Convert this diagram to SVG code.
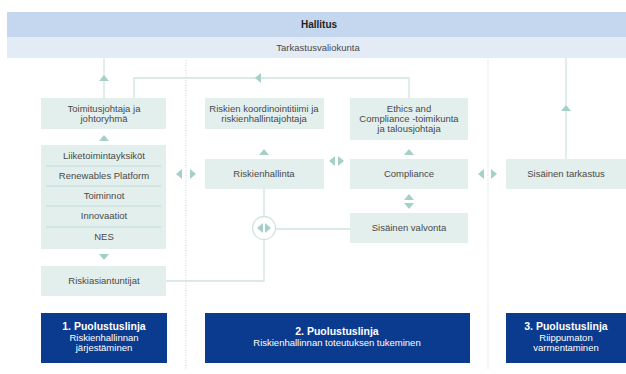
<svg xmlns="http://www.w3.org/2000/svg" width="626" height="374" viewBox="0 0 626 374">
  <style>
    .box { fill: #e2efed; }
    .navy { fill: #0b3b8f; }
    .t { font-family: "Liberation Sans", Arial, sans-serif; font-size: 9.5px; fill: #4a4a4a; text-anchor: middle; }
    .w { font-family: "Liberation Sans", Arial, sans-serif; font-size: 9.5px; fill: #ffffff; text-anchor: middle; }
    .wb { font-weight: bold; font-size: 10.5px; }
    .b { font-weight: bold; font-size: 10px; fill: #222222; }
    .ln { fill: none; stroke: #cfe4e0; stroke-width: 1.3; }
    .sep { stroke: #b9d6d0; stroke-width: 0.8; }
    .dot { stroke: #c9d7d6; stroke-width: 1; stroke-dasharray: 1 1.5; }
    .ar { fill: #a5d0c8; }
  </style>
  <defs>
    <polygon id="up" class="ar" points="-5,3 5,3 0,-3"/>
    <polygon id="dn" class="ar" points="-5,-3 5,-3 0,3"/>
    <polygon id="lt" class="ar" points="3,-5 3,5 -3,0"/>
    <polygon id="rt" class="ar" points="-3,-5 -3,5 3,0"/>
  </defs>

  <rect width="626" height="374" fill="#ffffff"/>

  <!-- board bars -->
  <g id="hallitus">
    <rect x="7" y="12" width="619" height="25" fill="#c5d7ef"/>
    <text class="t b" x="319" y="28">Hallitus</text>
  </g>
  <g id="tarkastusvaliokunta">
    <rect x="7" y="37" width="619" height="21" fill="#e3ebf7"/>
    <text class="t" x="318" y="51">Tarkastusvaliokunta</text>
  </g>

  <!-- column dividers -->
  <line class="dot" x1="186" y1="60" x2="186" y2="370"/>
  <line class="dot" x1="488" y1="60" x2="488" y2="370"/>

  <g id="connectors">
    <line class="ln" x1="104" y1="58" x2="104" y2="98"/>
    <polyline class="ln" points="134,98 134,78 409,78 409,98"/>
    <line class="ln" x1="566" y1="58" x2="566" y2="159"/>
    <polyline class="ln" points="264,189 264,281 166,281"/>
    <line class="ln" x1="276" y1="229" x2="350" y2="229"/>
    <use href="#up" x="104" y="78"/>
    <use href="#lt" x="258" y="78"/>
    <use href="#up" x="566" y="108"/>
    <use href="#up" x="104" y="138"/>
    <use href="#dn" x="104" y="257"/>
    <use href="#up" x="264" y="152"/>
    <use href="#up" x="409" y="152"/>
    <use href="#up" x="409" y="197"/>
    <use href="#dn" x="409" y="206"/>
    <use href="#lt" x="179" y="174"/>
    <use href="#rt" x="193" y="174"/>
    <use href="#lt" x="332" y="161"/>
    <use href="#rt" x="341" y="161"/>
    <use href="#lt" x="481" y="174"/>
    <use href="#rt" x="494" y="174"/>
    <g id="risk-hub">
      <circle cx="264" cy="228" r="11.5" fill="#ffffff" stroke="#cfe4e0" stroke-width="1.3"/>
      <use href="#lt" x="260" y="228"/>
      <use href="#rt" x="268" y="228"/>
    </g>
  </g>

  <!-- first line of defence -->
  <g id="toimitusjohtaja">
    <rect class="box" x="41" y="98" width="125" height="31"/>
    <text class="t" x="104" y="112">Toimitusjohtaja ja</text>
    <text class="t" x="104" y="122">johtoryhmä</text>
  </g>
  <g id="liiketoiminta">
    <rect class="box" x="41" y="145" width="125" height="104"/>
    <line class="sep" x1="46" y1="166" x2="161" y2="166"/>
    <line class="sep" x1="46" y1="186" x2="161" y2="186"/>
    <line class="sep" x1="46" y1="206" x2="161" y2="206"/>
    <line class="sep" x1="46" y1="227" x2="161" y2="227"/>
    <text class="t" x="104" y="159">Liiketoimintayksiköt</text>
    <text class="t" x="104" y="179">Renewables Platform</text>
    <text class="t" x="104" y="199">Toiminnot</text>
    <text class="t" x="104" y="219">Innovaatiot</text>
    <text class="t" x="104" y="240">NES</text>
  </g>
  <g id="riskiasiantuntijat">
    <rect class="box" x="41" y="266" width="125" height="30"/>
    <text class="t" x="104" y="284">Riskiasiantuntijat</text>
  </g>

  <!-- second line of defence -->
  <g id="riskien-koordinointi">
    <rect class="box" x="205" y="98" width="119" height="31"/>
    <text class="t" x="264" y="112">Riskien koordinointitiimi ja</text>
    <text class="t" x="264" y="122">riskienhallintajohtaja</text>
  </g>
  <g id="ethics-compliance">
    <rect class="box" x="350" y="98" width="118" height="42"/>
    <text class="t" x="409" y="112">Ethics and</text>
    <text class="t" x="409" y="122">Compliance -toimikunta</text>
    <text class="t" x="409" y="132">ja talousjohtaja</text>
  </g>
  <g id="riskienhallinta">
    <rect class="box" x="205" y="159" width="119" height="30"/>
    <text class="t" x="264" y="177">Riskienhallinta</text>
  </g>
  <g id="compliance">
    <rect class="box" x="350" y="159" width="118" height="30"/>
    <text class="t" x="409" y="177">Compliance</text>
  </g>
  <g id="sisainen-valvonta">
    <rect class="box" x="350" y="213" width="118" height="30"/>
    <text class="t" x="409" y="231">Sisäinen valvonta</text>
  </g>

  <!-- third line of defence -->
  <g id="sisainen-tarkastus">
    <rect class="box" x="506" y="159" width="120" height="30"/>
    <text class="t" x="566" y="177">Sisäinen tarkastus</text>
  </g>

  <!-- line-of-defence labels -->
  <g id="linja-1">
    <rect class="navy" x="41" y="313" width="126" height="50"/>
    <text class="w wb" x="104" y="330">1. Puolustuslinja</text>
    <text class="w" x="104" y="341">Riskienhallinnan</text>
    <text class="w" x="104" y="351">järjestäminen</text>
  </g>
  <g id="linja-2">
    <rect class="navy" x="205" y="313" width="265" height="50"/>
    <text class="w wb" x="337" y="335">2. Puolustuslinja</text>
    <text class="w" x="337" y="346">Riskienhallinnan toteutuksen tukeminen</text>
  </g>
  <g id="linja-3">
    <rect class="navy" x="506" y="313" width="120" height="50"/>
    <text class="w wb" x="566" y="330">3. Puolustuslinja</text>
    <text class="w" x="566" y="341">Riippumaton</text>
    <text class="w" x="566" y="351">varmentaminen</text>
  </g>
</svg>
